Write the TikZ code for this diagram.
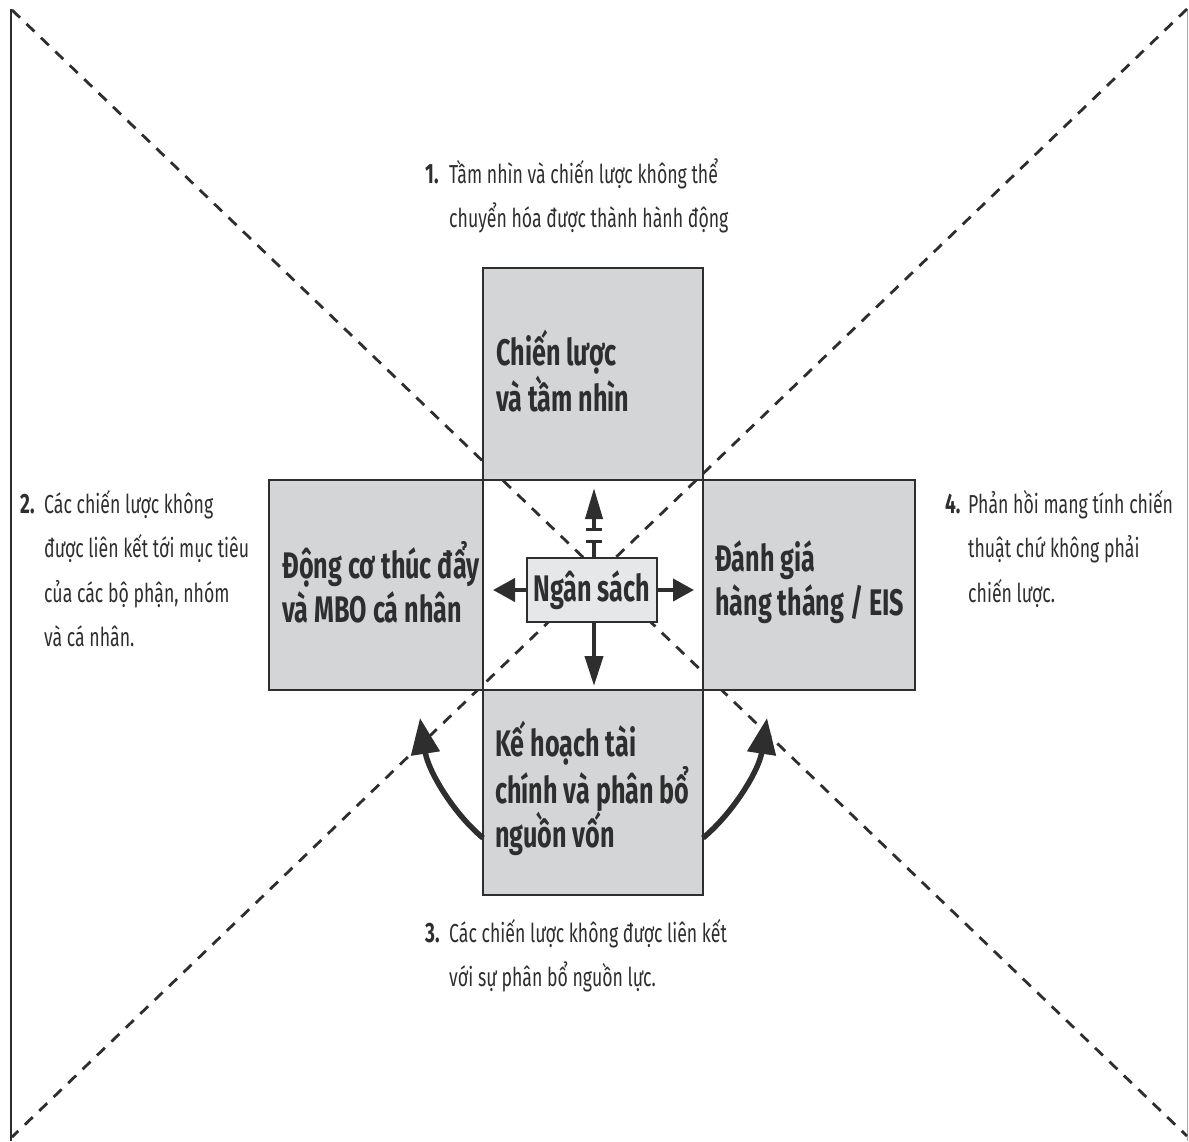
\documentclass[tikz,border=0pt]{standalone}
\usepackage{fontspec}
\setmainfont{Fira Sans}[FakeStretch=0.68]
\usetikzlibrary{arrows.meta}

\definecolor{panelgray}{HTML}{D4D5D7}
\definecolor{budgetgray}{HTML}{E6E7E9}
\definecolor{inkgray}{HTML}{2E2E2E}

\begin{document}
\begin{tikzpicture}[x=1pt,y=-1pt,
  diag/.style={draw=inkgray, line width=2.8pt, dash pattern=on 11pt off 9pt},
  panel/.style={draw=inkgray, fill=panelgray, line width=1.8pt, inner sep=0pt},
  paneltext/.style={anchor=west, align=left, inner sep=0pt, text=inkgray,
    font={\fontsize{37}{44}\selectfont\bfseries}},
  budget/.style={draw=inkgray, fill=budgetgray, line width=2pt, inner sep=0pt,
    minimum width=130pt, minimum height=64pt, text=inkgray,
    font={\fontsize{37}{40}\selectfont\bfseries}},
  note/.style={anchor=base west, align=left, inner sep=0pt, text=inkgray,
    font={\fontsize{26}{44.5}\selectfont}},
  notenum/.style={anchor=base west, inner sep=0pt, text=inkgray,
    font={\fontsize{28}{44.5}\selectfont\bfseries}},
  shaft/.style={draw=inkgray, line width=4pt},
  bigarrow/.style={draw=inkgray, line width=5.5pt,
    -{Triangle[length=36pt,width=28pt]}},
]
\useasboundingbox (0,0) rectangle (1189,1141);

% frame edges
\draw[inkgray, line width=2pt] (10.5,9) -- (10.5,1141);
\draw[gray!70, line width=1pt] (1187.5,9) -- (1187.5,1141);

% corner points and the two dashed diagonals
\coordinate (ctl) at (12,10);
\coordinate (cbr) at (1187,1136);
\coordinate (ctr) at (1187,9);
\coordinate (cbl) at (12,1137);
\draw[diag] (ctl) -- (cbr);
\draw[diag] (ctr) -- (cbl);

% the four grey panels
\node[panel, minimum width=220pt, minimum height=212pt] (strat) at (593,374) {};
\node[panel, minimum width=214pt, minimum height=210pt] (motiv) at (376,585) {};
\node[panel, minimum width=212pt, minimum height=210pt] (review) at (809,585) {};
\node[panel, minimum width=220pt, minimum height=205pt] (finance) at (593,792.5) {};

\node[paneltext] (stratT) at ([xshift=14pt,yshift=3pt]strat.west) {Chiến lược\\và tầm nhìn};
\node[paneltext] (motivT) at ([xshift=14pt,yshift=3pt]motiv.west) {Động cơ thúc đẩy\\và MBO cá nhân};
\node[paneltext] (reviewT) at ([xshift=13pt,yshift=3pt]review.west) {Đánh giá\\hàng tháng / EIS};
\node[paneltext] (financeT) at ([xshift=13pt,yshift=4pt]finance.west) {Kế hoạch tài\\chính và phân bổ\\nguồn vốn};

% central budget box and its four arrows
\node[budget] (budget) at (592,590) {Ngân sách};

\coordinate (pL) at (493,590);
\coordinate (pR) at (694,590);
\coordinate (pD) at (594,686);
\coordinate (pU) at (594,488);
\coordinate (brkA) at (594,541);
\coordinate (brkB) at (594,529);

\draw[shaft, -{Triangle[length=22pt,width=23pt]}] (budget.west) -- (pL);
\draw[shaft, -{Triangle[length=21pt,width=22pt]}] (budget.east) -- (pR);
\draw[shaft, -{Triangle[length=30pt,width=18pt]}] (budget.south -| pD) -- (pD);
\draw[shaft] (budget.north -| brkA) -- (brkA);
\draw[inkgray, line width=3pt] ([xshift=-8pt]brkA) -- ([xshift=8pt]brkA);
\draw[inkgray, line width=3pt] ([xshift=-8pt]brkB) -- ([xshift=8pt]brkB);
\draw[shaft, -{Triangle[length=31pt,width=17pt]}] (brkB) -- (pU);

% curved arrows leaving the finance panel
\coordinate (cL0) at (483,838);
\coordinate (cL1) at (420,718);
\coordinate (cR0) at (703,838);
\coordinate (cR1) at (767,718);
\draw[bigarrow] (cL0) .. controls (452,812) and (428,770) .. (cL1);
\draw[bigarrow] (cR0) .. controls (734,812) and (759,770) .. (cR1);

% numbered notes: number on the first baseline, text placed by its last baseline
\node[notenum] (n1) at (425,183) {1.};
\node[note] (t1) at (449,227.5) {Tầm nhìn và chiến lược không thể\\chuyển hóa được thành hành động};

\node[notenum] (n2) at (20,513) {2.};
\node[note] (t2) at (44,646.5) {Các chiến lược không\\được liên kết tới mục tiêu\\của các bộ phận, nhóm\\và cá nhân.};

\node[notenum] (n3) at (425,942) {3.};
\node[note] (t3) at (449,986.5) {Các chiến lược không được liên kết\\với sự phân bổ nguồn lực.};

\node[notenum] (n4) at (945,513) {4.};
\node[note] (t4) at (968,602) {Phản hồi mang tính chiến\\thuật chứ không phải\\chiến lược.};
\end{tikzpicture}
\end{document}
